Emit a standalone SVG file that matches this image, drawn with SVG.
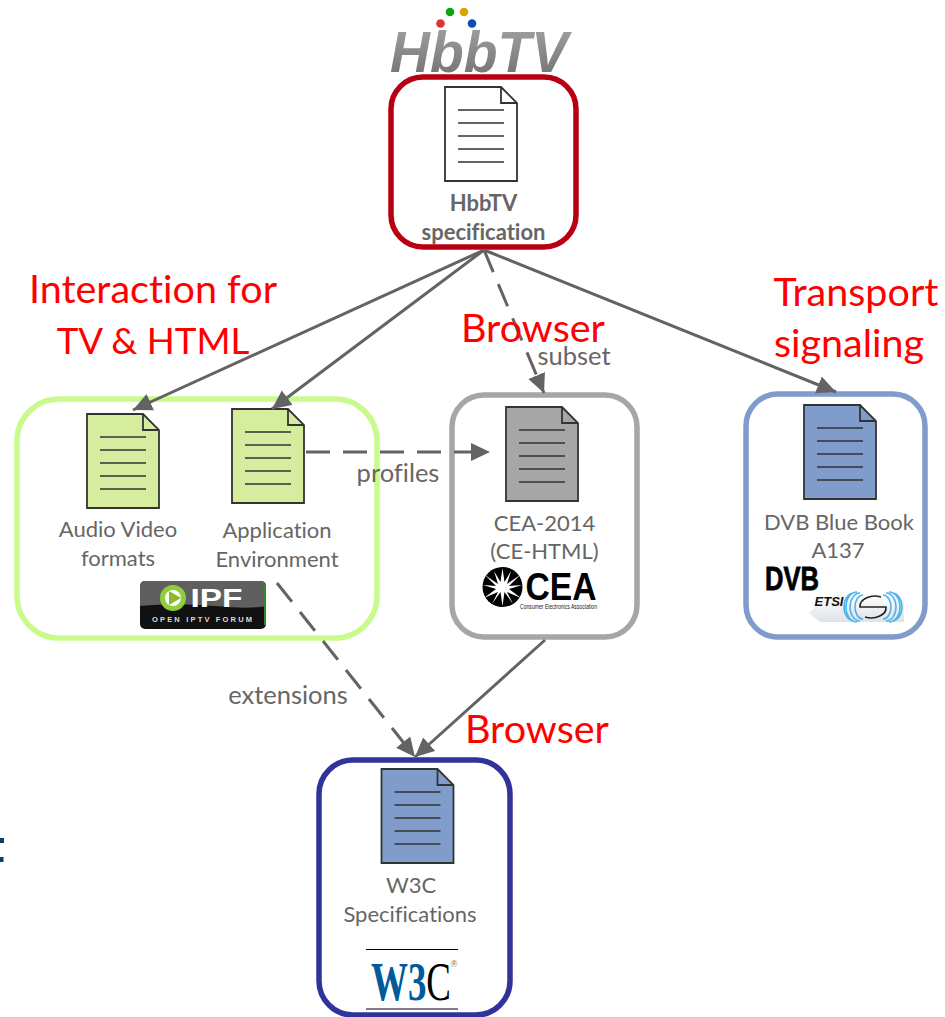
<svg xmlns="http://www.w3.org/2000/svg" width="945" height="1017" viewBox="0 0 945 1017">
<style>
text{font-family:Lato,"Open Sans",sans-serif;fill:#666;text-anchor:middle;font-variant-ligatures:none}
.lb{font-size:22px}
.cl{font-size:25.500px}
.red{font-size:39.500px;fill:#ff0000}
.box{fill:#fff;stroke-width:5.5}
.conn{fill:none;stroke:#636363;stroke-width:3}
.dash{stroke-dasharray:24 13}
.docb{stroke:#333;stroke-width:1.8;stroke-linejoin:miter}
.docl{fill:none;stroke:#333;stroke-width:1.6}
</style>
<defs>
<marker id="ah" markerUnits="userSpaceOnUse" markerWidth="22" markerHeight="20" refX="19" refY="9" orient="auto"><path d="M0 0L19 9L0 18Z" fill="#636363"/></marker>
<g id="doc">
<path class="docb" d="M0 0H56L72 16V94H0Z"/>
<path class="docb" d="M56 0V16H72" fill="none"/>
<path class="docl" d="M13 23H59M13 36H59M13 49H59M13 62H59M13 75H59"/>
</g>
<linearGradient id="hg" x1="0" y1="0" x2="0" y2="1"><stop offset="0" stop-color="#a6a6a6"/><stop offset="1" stop-color="#6e6e6e"/></linearGradient>
<linearGradient id="eg" x1="0" y1="0" x2="0" y2="1"><stop offset="0" stop-color="#fff"/><stop offset="1" stop-color="#dfe3e8"/></linearGradient>
</defs>

<g id="node-hbbtv">
<text x="479" y="72" style="font-family:'Liberation Sans',sans-serif;font-size:58px;font-weight:bold;font-style:italic;fill:url(#hg)" textLength="178" lengthAdjust="spacingAndGlyphs">HbbTV</text>
<circle cx="450" cy="12" r="4.300" fill="#0aa60a"/><circle cx="464" cy="12" r="4.300" fill="#d9a400"/><circle cx="440.500" cy="23.500" r="4.300" fill="#d33"/><circle cx="472" cy="23.500" r="4.300" fill="#0a4fb0"/>
<rect class="box" x="391" y="77" width="185" height="170" rx="32" stroke="#b90012"/>
<use href="#doc" x="445" y="87" fill="#fff"/>
<text x="483.500" y="211" style="font-size:22px;font-weight:bold">HbbTV</text>
<text x="483.500" y="240" style="font-size:22px;font-weight:bold">specification</text>
</g>

<g id="node-green">
<rect class="box" x="17" y="399" width="360" height="239" rx="42" stroke="#c9fb8c"/>
<use href="#doc" x="87" y="414" fill="#d6eda0"/>
<use href="#doc" x="232" y="409" fill="#d6eda0"/>
<text class="lb" x="118" y="537">Audio Video</text>
<text class="lb" x="118" y="566">formats</text>
<text class="lb" x="277" y="538">Application</text>
<text class="lb" x="277" y="567">Environment</text>
<rect x="140" y="581" width="126" height="48" rx="5" fill="#111"/>
<path d="M140 586a5 5 0 0 1 5-5H261a5 5 0 0 1 5 5V606C235 612 200 600 140 606Z" fill="#5f5f5f"/>
<path d="M265 585V625" stroke="#2c8a2c" stroke-width="2"/>
<circle cx="173" cy="598" r="10.500" fill="#fff" stroke="#8fce3a" stroke-width="5"/>
<path d="M169 591L181 598L169 605Z" fill="#8fb82a"/>
<text x="216.500" y="607" style="font-family:'Liberation Sans',sans-serif;font-size:26px;font-weight:bold;fill:#fff" textLength="52" lengthAdjust="spacingAndGlyphs">IPF</text>
<text x="202" y="622" style="font-family:'Liberation Sans',sans-serif;font-size:7.500px;font-weight:bold;fill:#ddd" textLength="100" lengthAdjust="spacing">OPEN IPTV FORUM</text>
</g>

<g id="node-cea">
<rect class="box" x="452" y="395" width="185" height="242" rx="32" stroke="#a6a6a6"/>
<use href="#doc" x="506" y="407" fill="#a6a6a6"/>
<text class="lb" x="544.500" y="531">CEA-2014</text>
<text class="lb" x="544.500" y="559">(CE-HTML)</text>
<circle cx="502.500" cy="587" r="20" fill="#000"/>
<path d="M502.500 568L504.500 582L511 571L507 584L520 575L509 586L522 585L509 589L521 598L507 592L513 604L504.500 592L502.500 606L500.500 592L492 604L498 592L484 598L496 589L483 585L496 586L485 575L498 584L494 571L500.500 582Z" fill="#fff"/>
<text x="561" y="600" style="font-family:'Liberation Sans',sans-serif;font-size:39px;font-weight:bold;fill:#000" textLength="71" lengthAdjust="spacingAndGlyphs">CEA</text>
<text x="558.500" y="609" style="font-family:'Liberation Sans',sans-serif;font-size:6.500px;fill:#222" textLength="77" lengthAdjust="spacingAndGlyphs">Consumer Electronics Association</text>
</g>

<g id="node-dvb">
<rect class="box" x="746" y="394" width="179" height="243" rx="32" stroke="#7f9ccb"/>
<use href="#doc" x="804" y="405" fill="#7f9ccb"/>
<text class="lb" x="839" y="530">DVB Blue Book</text>
<text class="lb" x="838" y="558">A137</text>
<text x="792" y="590" style="font-family:'Liberation Sans',sans-serif;font-size:33px;font-weight:bold;fill:#000;stroke:#000;stroke-width:.8" textLength="54" lengthAdjust="spacingAndGlyphs">DVB</text>
<path d="M809 613L830 592H904V622H820Z" fill="url(#eg)"/>
<g fill="none" stroke="#4db4ee" stroke-width="1.600">
<path d="M863 595A8 12 0 0 0 863 619M860 593A10 14 0 0 0 860 621M857 592A11 15 0 0 0 857 622M854 593A10 14 0 0 0 854 621"/>
<path d="M883 595A8 12 0 0 1 883 619M886 593A10 14 0 0 1 886 621M889 592A11 15 0 0 1 889 622M892 593A10 14 0 0 1 892 621"/>
</g>
<path d="M881 597A15 10 0 0 0 860 607H886A15 10 0 0 1 865 617" fill="none" stroke="#222" stroke-width="1.600"/>
<text x="829" y="606" style="font-family:'Liberation Sans',sans-serif;font-size:13px;font-weight:bold;font-style:italic;fill:#111">ETSI</text>
</g>

<g id="node-w3c">
<rect class="box" x="319" y="760" width="191" height="255" rx="34" stroke="#32329b"/>
<use href="#doc" x="381.500" y="769" fill="#7f9ccb"/>
<text class="lb" x="411" y="893">W3C</text>
<text class="lb" x="410" y="922">Specifications</text>
<path d="M366 949.500H458M366 1009H458" stroke="#000" stroke-width="1.200"/>
<text x="371" y="1000" style="text-anchor:start;font-family:'Liberation Serif',serif;font-size:54px;font-weight:bold;fill:#005a9c" textLength="80" lengthAdjust="spacingAndGlyphs">W3<tspan style="font-weight:normal;fill:#000">C</tspan></text>
<text x="454" y="967" style="font-family:'Liberation Sans',sans-serif;font-size:9px;fill:#777">®</text>
</g>

<g id="connectors">
<path class="conn" d="M484 250L133 410" marker-end="url(#ah)"/>
<path class="conn" d="M484 250L272 409" marker-end="url(#ah)"/>
<path class="conn" d="M484 250L836 392" marker-end="url(#ah)"/>
<path class="conn dash" d="M484 250L544 393" marker-end="url(#ah)"/>
<path class="conn dash" d="M306 452H490" marker-end="url(#ah)"/>
<path class="conn dash" d="M277 583L415 757" marker-end="url(#ah)"/>
<path class="conn" d="M545 640L415 757" marker-end="url(#ah)"/>
</g>

<g id="labels">
<text class="cl" x="574" y="365">subset</text>
<text class="cl" x="398" y="482">profiles</text>
<text class="cl" x="288" y="704">extensions</text>
<text class="red" x="153" y="303">Interaction for</text>
<text class="red" x="153" y="354" style="font-size:36.700px">TV &amp; HTML</text>
<text class="red" x="533" y="342">Browser</text>
<text class="red" x="856" y="306">Transport</text>
<text class="red" x="849" y="357">signaling</text>
<text class="red" x="537" y="743">Browser</text>
</g>
<rect x="0" y="838" width="4" height="5" fill="#0b3f66"/><rect x="0" y="857" width="3.500" height="5" fill="#0b3f66"/>
</svg>
